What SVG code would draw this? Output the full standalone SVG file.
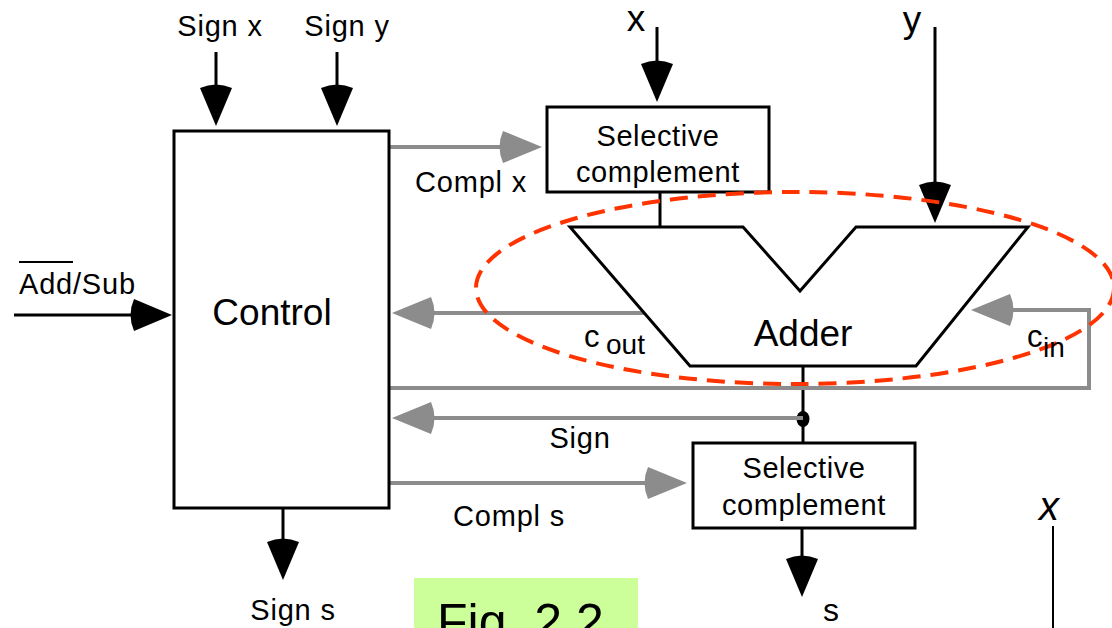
<svg xmlns="http://www.w3.org/2000/svg" width="1112" height="628" viewBox="0 0 1112 628">
<style>
text{font-family:"Liberation Sans",Arial,sans-serif;fill:#000}
.box{fill:#fff;stroke:#000;stroke-width:3}
.blk{fill:none;stroke:#000;stroke-width:3}
.gry{fill:none;stroke:#8c8c8c;stroke-width:4}
.lbl{font-size:29px;letter-spacing:0.8px}
.sc{font-size:29px;text-anchor:middle;letter-spacing:0.6px}
</style>
<defs>
<marker id="ab" markerUnits="userSpaceOnUse" viewBox="-47 -18 49 36" markerWidth="49" markerHeight="36" refX="-6" refY="0" orient="auto" overflow="visible">
<path d="M0,0 L-38,-16 Q-45,0 -38,16 Z" fill="#000"/>
</marker>
<marker id="ag" markerUnits="userSpaceOnUse" viewBox="-47 -18 49 36" markerWidth="49" markerHeight="36" refX="-6" refY="0" orient="auto" overflow="visible">
<path d="M0,0 L-39,-16 Q-46,0 -39,16 Z" fill="#8c8c8c"/>
</marker>
</defs>
<rect width="1112" height="628" fill="#fff"/>

<g id="connectors">
<line class="blk" x1="216" y1="52" x2="216" y2="120" marker-end="url(#ab)"/>
<line class="blk" x1="337" y1="52" x2="337" y2="120" marker-end="url(#ab)"/>
<line class="blk" x1="657" y1="27" x2="657" y2="96" marker-end="url(#ab)"/>
<line class="blk" x1="935" y1="27" x2="935" y2="217" marker-end="url(#ab)"/>
<line class="blk" x1="14" y1="315" x2="166" y2="315" marker-end="url(#ab)"/>
<line class="blk" x1="283" y1="509" x2="283" y2="574" marker-end="url(#ab)"/>
<line class="blk" x1="802" y1="528" x2="802" y2="591" marker-end="url(#ab)"/>
<line class="blk" x1="660" y1="192" x2="660" y2="227" stroke-width="2.5"/>
<line class="blk" x1="803" y1="366" x2="803" y2="443"/>
<ellipse cx="803" cy="419" rx="6.5" ry="8" fill="#000"/>
<line class="gry" x1="389" y1="147" x2="536" y2="147" marker-end="url(#ag)"/>
<line class="gry" x1="644" y1="313" x2="398" y2="313" marker-end="url(#ag)"/>
<polyline class="gry" points="389,388 1089,388 1089,310 977,310" marker-end="url(#ag)"/>
<line class="gry" x1="803" y1="418" x2="398" y2="418" marker-end="url(#ag)"/>
<line class="gry" x1="389" y1="483" x2="681" y2="483" marker-end="url(#ag)"/>
<line x1="1053" y1="526" x2="1053" y2="628" stroke="#000" stroke-width="2"/>
</g>

<g id="control">
<rect class="box" x="174" y="131" width="215" height="377"/>
<text x="272" y="325" font-size="37" text-anchor="middle">Control</text>
</g>

<g id="selcomp-top">
<rect class="box" x="547" y="107" width="222" height="85"/>
<text class="sc" x="658" y="146">Selective</text>
<text class="sc" x="658" y="182">complement</text>
</g>

<g id="adder">
<polygon class="blk" points="570,227 743,227 800,291 856,227 1028,227 916,366 690,366 570,227" stroke-linejoin="miter"/>
<text x="803" y="346" font-size="37" text-anchor="middle">Adder</text>
</g>

<g id="selcomp-bottom">
<rect class="box" x="693" y="443" width="222" height="85"/>
<text class="sc" x="804" y="478">Selective</text>
<text class="sc" x="804" y="515">complement</text>
</g>

<g id="highlight">
<ellipse cx="795" cy="288" rx="319" ry="96" fill="none" stroke="#ff3300" stroke-width="4" stroke-dasharray="18 10"/>
</g>

<g id="labels">
<text class="lbl" x="220" y="36" text-anchor="middle">Sign x</text>
<text class="lbl" x="347" y="36" text-anchor="middle">Sign y</text>
<text x="636" y="31" font-size="37" text-anchor="middle">x</text>
<text x="912" y="32" font-size="37" text-anchor="middle">y</text>
<text class="lbl" x="415" y="192">Compl x</text>
<text class="lbl" x="19" y="294">Add/Sub</text>
<line x1="19" y1="262" x2="73" y2="262" stroke="#000" stroke-width="2"/>
<text x="584" y="347" font-size="31">c</text>
<text x="606" y="354" font-size="28">out</text>
<text x="1027" y="347" font-size="31">c</text>
<text x="1043" y="357" font-size="28">in</text>
<text class="lbl" x="580" y="448" text-anchor="middle">Sign</text>
<text class="lbl" x="453" y="526">Compl s</text>
<text class="lbl" x="293" y="620" text-anchor="middle">Sign s</text>
<text x="831" y="621" font-size="32" text-anchor="middle">s</text>
<text x="1049" y="520" font-size="40" font-style="italic" text-anchor="middle">x</text>
</g>

<g id="fig-label">
<rect x="414" y="578" width="224" height="60" fill="#ccff99"/>
<text x="437" y="639" font-size="50">Fig. 2.2</text>
</g>
</svg>
